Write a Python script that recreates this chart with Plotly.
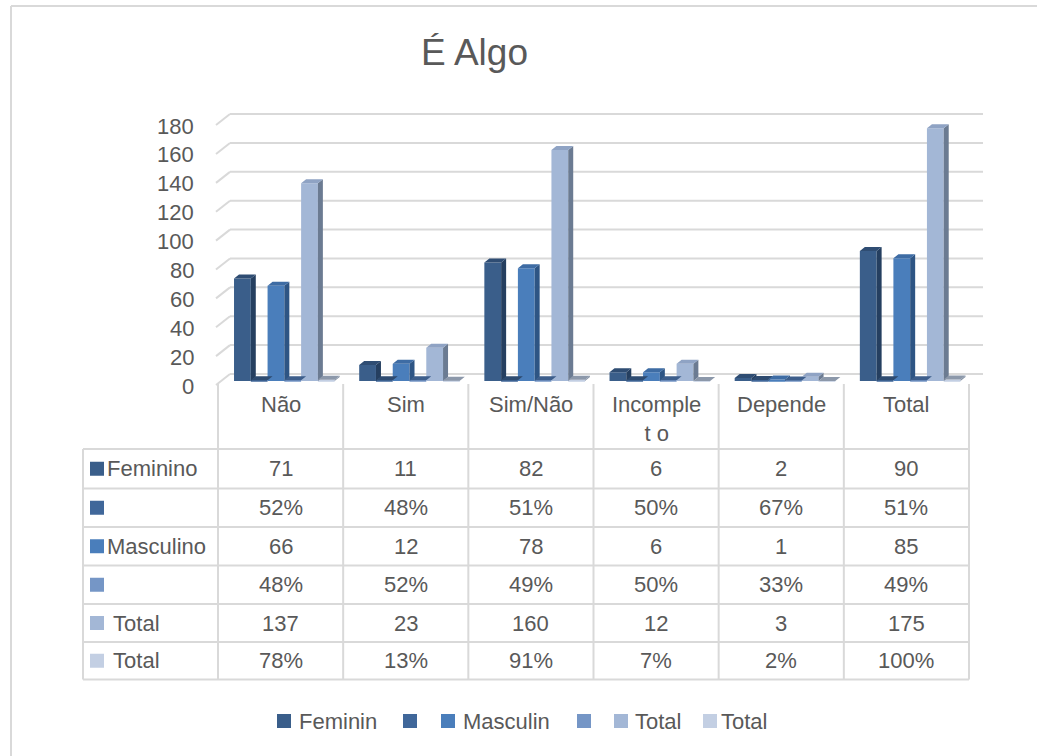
import plotly.graph_objects as go

# ---- data -----------------------------------------------------------------
title_text = "É Algo"
categories = ["Não", "Sim", "Sim/Não", "Incomple<br>t o", "Depende", "Total"]

feminino = [71, 11, 82, 6, 2, 90]
feminino_pct = [0.52, 0.48, 0.51, 0.50, 0.67, 0.51]
masculino = [66, 12, 78, 6, 1, 85]
masculino_pct = [0.48, 0.52, 0.49, 0.50, 0.33, 0.49]
total = [137, 23, 160, 12, 3, 175]
total_pct = [0.78, 0.13, 0.91, 0.07, 0.02, 1.00]

row_labels = ["Feminino", "", "Masculino", "", " Total", " Total"]
legend_labels = ["Feminin", "", "Masculin", "", "Total", "Total"]
y_ticks = [0, 20, 40, 60, 80, 100, 120, 140, 160, 180]

# ---- styles ---------------------------------------------------------------
W, H = 1037, 756
FONT = "Liberation Sans, Arial, sans-serif"
TXT = "#595959"
GRID = "#D9D9D9"

# front / side / top face colours per series
series = [
    dict(values=feminino, fmt="{:d}", front="#3A5E8A", side="#253F60", top="#2F4D73", key="#3A5E8A"),
    dict(values=feminino_pct, fmt="{:.0%}", front="#40679A", side="#2A4668", top="#2E4B70", key="#40679A"),
    dict(values=masculino, fmt="{:d}", front="#4A7EBB", side="#2E5584", top="#3E6CA4", key="#4A7EBB"),
    dict(values=masculino_pct, fmt="{:.0%}", front="#7596C6", side="#3E5E8A", top="#3D5E8B", key="#7596C6"),
    dict(values=total, fmt="{:d}", front="#A3B7D6", side="#6B7B92", top="#8FA3C4", key="#A3B7D6"),
    dict(values=total_pct, fmt="{:.0%}", front="#C3CFE3", side="#8693A6", top="#8C98AA", key="#C3CFE3"),
]

# plot geometry (pixels)
X_L, X_R = 218, 969            # category columns span
Y_ZERO_PX, PX_PER_UNIT = 381, 1.444
Y_MIN, Y_MAX = -8, 194
y_top_px = Y_ZERO_PX - Y_MAX * PX_PER_UNIT
y_bot_px = Y_ZERO_PX - Y_MIN * PX_PER_UNIT

COL_W = (X_R - X_L) / len(categories)
BAR_W = 0.134                  # in category units
START = -0.372
DX = 5 / COL_W                 # depth offset, category units
DY = 4 / PX_PER_UNIT           # depth offset, value units


def px(x):
    return x / W


def py(y):
    return 1 - y / H


fig = go.Figure()
xs = list(range(len(categories)))

for i, s in enumerate(series):
    off = START + i * BAR_W
    fig.add_trace(go.Bar(
        x=xs, y=s["values"], width=BAR_W, offset=off,
        marker=dict(color=s["front"], line=dict(width=0)),
        showlegend=False, hoverinfo="skip",
    ))

# side and top faces give the columns their depth
for i, s in enumerate(series):
    sx, sy, tx, ty = [], [], [], []
    for k, v in enumerate(s["values"]):
        x0 = k + START + i * BAR_W
        x1 = x0 + BAR_W
        sx += [x1, x1 + DX, x1 + DX, x1, x1, None]
        sy += [0, DY, v + DY, v, 0, None]
        tx += [x0, x0 + DX, x1 + DX, x1, x0, None]
        ty += [v, v + DY, v + DY, v, v, None]
    fig.add_trace(go.Scatter(x=sx, y=sy, mode="lines", fill="toself", fillcolor=s["side"],
                             line=dict(width=0), showlegend=False, hoverinfo="skip"))
    fig.add_trace(go.Scatter(x=tx, y=ty, mode="lines", fill="toself", fillcolor=s["top"],
                             line=dict(width=0), showlegend=False, hoverinfo="skip"))

shapes = []
annotations = []
# back-wall gridlines with the slanted left edge, value labels at the front edge
BACK_UP, FRONT_DOWN = 7, -4
for t in y_ticks:
    shapes.append(dict(type="line", xref="paper", yref="y", ysizemode="pixel", yanchor=t,
                       x0=px(230), x1=px(983), y0=BACK_UP, y1=BACK_UP,
                       line=dict(color=GRID, width=2), layer="below"))
    shapes.append(dict(type="line", xref="paper", yref="y", ysizemode="pixel", yanchor=t,
                       x0=px(216), x1=px(230), y0=FRONT_DOWN, y1=BACK_UP,
                       line=dict(color=GRID, width=2), layer="below"))
    annotations.append(dict(xref="paper", yref="y", x=px(196), y=t, yshift=-5,
                            xanchor="right", yanchor="middle", showarrow=False, text=str(t),
                            font=dict(family=FONT, size=22, color=TXT)))

# category labels in the table header row
for k, c in enumerate(categories):
    annotations.append(dict(xref="x", yref="paper", x=k, y=py(390), xanchor="center",
                            yanchor="top", showarrow=False, text=c,
                            font=dict(family=FONT, size=22, color=TXT)))

# data table grid
TABLE_L, HEAD_TOP = 83, 384
row_lines = [449, 488.5, 527, 565.5, 604, 642, 679.5]
col_lines = [X_L + j * COL_W for j in range(len(categories) + 1)]
for yl in row_lines:
    shapes.append(dict(type="line", xref="paper", yref="paper", x0=px(TABLE_L), x1=px(X_R),
                       y0=py(yl), y1=py(yl), line=dict(color=GRID, width=2)))
shapes.append(dict(type="line", xref="paper", yref="paper", x0=px(TABLE_L), x1=px(TABLE_L),
                   y0=py(row_lines[0]), y1=py(row_lines[-1]), line=dict(color=GRID, width=2)))
for xl in col_lines:
    shapes.append(dict(type="line", xref="paper", yref="paper", x0=px(xl), x1=px(xl),
                       y0=py(HEAD_TOP), y1=py(row_lines[-1]), line=dict(color=GRID, width=2)))

# outer frame (top and left edges)
shapes.append(dict(type="line", xref="paper", yref="paper", x0=px(11), x1=1, y0=py(6), y1=py(6),
                   line=dict(color=GRID, width=2)))
shapes.append(dict(type="line", xref="paper", yref="paper", x0=px(11), x1=px(11), y0=py(6), y1=0,
                   line=dict(color=GRID, width=2)))

# table rows
KEY = 14
for r, s in enumerate(series):
    yc = (row_lines[r] + row_lines[r + 1]) / 2
    shapes.append(dict(type="rect", xref="paper", yref="paper", x0=px(90), x1=px(90 + KEY),
                       y0=py(yc + KEY / 2), y1=py(yc - KEY / 2),
                       fillcolor=s["key"], line=dict(width=0)))
    annotations.append(dict(xref="paper", yref="paper", x=px(105), y=py(yc), xanchor="left",
                            yanchor="middle", showarrow=False, text=row_labels[r].replace(" ", "&nbsp;"),
                            font=dict(family=FONT, size=22, color=TXT)))
    for k, v in enumerate(s["values"]):
        annotations.append(dict(xref="x", yref="paper", x=k, y=py(yc), xanchor="center",
                                yanchor="middle", showarrow=False, text=s["fmt"].format(v),
                                font=dict(family=FONT, size=22, color=TXT)))

# legend
legend_pos = [(277, 297), (403, None), (441, 461), (577, None), (614, 633), (703, 719)]
LEG_Y = 721
for (kx, tx_), s, lab in zip(legend_pos, series, legend_labels):
    shapes.append(dict(type="rect", xref="paper", yref="paper", x0=px(kx), x1=px(kx + KEY),
                       y0=py(LEG_Y + KEY / 2), y1=py(LEG_Y - KEY / 2),
                       fillcolor=s["key"], line=dict(width=0)))
    if tx_ is not None and lab:
        annotations.append(dict(xref="paper", yref="paper", x=px(tx_), y=py(LEG_Y), xanchor="left",
                                yanchor="middle", showarrow=False, text=lab,
                                font=dict(family=FONT, size=22, color=TXT)))

# title
annotations.append(dict(xref="paper", yref="paper", x=px(474), y=py(52), xanchor="center",
                        yanchor="middle", showarrow=False, text=title_text,
                        font=dict(family=FONT, size=37, color=TXT)))

fig.update_layout(
    width=W, height=H,
    margin=dict(l=0, r=0, t=0, b=0),
    paper_bgcolor="white", plot_bgcolor="rgba(0,0,0,0)",
    barmode="overlay",
    showlegend=False,
    xaxis=dict(domain=[px(X_L), px(X_R)], range=[-0.5, len(categories) - 0.5],
               showticklabels=False, showgrid=False, zeroline=False,
               showline=False, ticks="", fixedrange=True),
    yaxis=dict(domain=[py(y_bot_px), py(y_top_px)], range=[Y_MIN, Y_MAX],
               showticklabels=False, showgrid=False, zeroline=False, showline=False,
               ticks="", fixedrange=True),
    shapes=shapes,
    annotations=annotations,
)

fig.write_html("out.html")
